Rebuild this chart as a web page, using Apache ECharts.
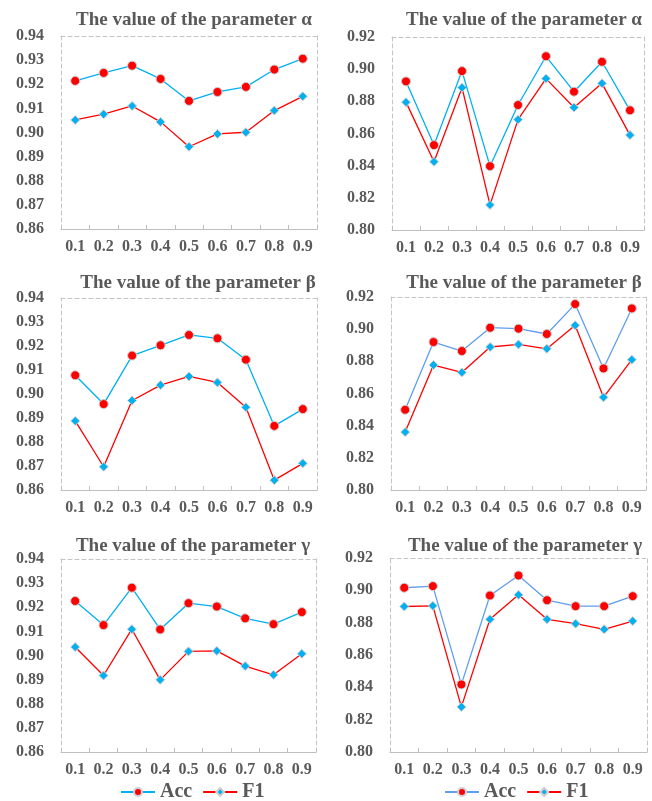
<!DOCTYPE html>
<html>
<head>
<meta charset="utf-8">
<script src="https://cdn.jsdelivr.net/npm/echarts@6/dist/echarts.min.js"></script>
<style>html,body{margin:0;padding:0;background:#fff}#c{width:652px;height:801px}</style>
</head>
<body>
<div id="c"></div>
<script>
// ---- data ----
const categories = ['0.1','0.2','0.3','0.4','0.5','0.6','0.7','0.8','0.9'];
const titles = ['The value of the parameter α','The value of the parameter α',
                'The value of the parameter β','The value of the parameter β',
                'The value of the parameter γ','The value of the parameter γ'];
const seriesNames = ['Acc','F1'];
const accAlphaL = [0.9214,0.9247,0.9277,0.9222,0.9131,0.9168,0.9189,0.9261,0.9306];
const f1AlphaL  = [0.9052,0.9076,0.9110,0.9044,0.8941,0.8994,0.9001,0.9091,0.9150];
const accAlphaR = [0.8924,0.8528,0.8988,0.8397,0.8777,0.9080,0.8860,0.9046,0.8744];
const f1AlphaR  = [0.8795,0.8424,0.8885,0.8156,0.8686,0.8941,0.8762,0.8912,0.8590];
const accBetaL  = [0.9078,0.8958,0.9160,0.9203,0.9246,0.9232,0.9143,0.8867,0.8937];
const f1BetaL   = [0.8888,0.8697,0.8973,0.9037,0.9073,0.9048,0.8945,0.8641,0.8711];
const accBetaR  = [0.8499,0.8920,0.8864,0.9009,0.9003,0.8970,0.9156,0.8756,0.9129];
const f1BetaR   = [0.8360,0.8777,0.8731,0.8889,0.8905,0.8878,0.9024,0.8576,0.8810];
const accGammaL = [0.9226,0.9126,0.9281,0.9108,0.9217,0.9203,0.9154,0.9130,0.9180];
const f1GammaL  = [0.9035,0.8917,0.9109,0.8899,0.9017,0.9019,0.8956,0.8920,0.9007];
const accGammaR = [0.9016,0.9026,0.8418,0.8968,0.9092,0.8939,0.8902,0.8902,0.8964];
const f1GammaR  = [0.8900,0.8904,0.8279,0.8821,0.8972,0.8821,0.8794,0.8759,0.8810];
// y-axis ranges [min, max, interval]
const yRangeLeft  = [0.86, 0.94, 0.01];
const yRangeRight = [0.80, 0.92, 0.02];

// ---- layout / style ----
const panels = [
  {acc: accAlphaL, f1: f1AlphaL, range: yRangeLeft,  grid:{left:61, top:36, width:256, height:193}, tx:189, ty:6,   accLine:'#00B0F0'},
  {acc: accAlphaR, f1: f1AlphaR, range: yRangeRight, grid:{left:392,top:37, width:252, height:193}, tx:519, ty:6,   accLine:'#00B0F0'},
  {acc: accBetaL,  f1: f1BetaL,  range: yRangeLeft,  grid:{left:61, top:298,width:256, height:192}, tx:193, ty:269, accLine:'#00B0F0'},
  {acc: accBetaR,  f1: f1BetaR,  range: yRangeRight, grid:{left:391,top:297,width:255, height:193}, tx:519, ty:269, accLine:'#5F9EEE'},
  {acc: accGammaL, f1: f1GammaL, range: yRangeLeft,  grid:{left:61, top:559,width:255, height:193}, tx:188, ty:532, accLine:'#00B0F0'},
  {acc: accGammaR, f1: f1GammaR, range: yRangeRight, grid:{left:390,top:558,width:257, height:194}, tx:520, ty:532, accLine:'#5F9EEE'}
];
const FONT = '"Liberation Serif","Times New Roman",serif';
const TXT = '#595959';
const BORDER = '#c4c4c4';
const RED = '#FF0000', BLUE = '#00B0F0';

const option = {
  animation:false,
  backgroundColor:'#fff',
  title:[], grid:[], xAxis:[], yAxis:[], series:[], legend:[]
};

panels.forEach((p,i)=>{
  option.title.push({text:titles[i], left:p.tx, top:p.ty, textAlign:'center',
    textStyle:{fontFamily:FONT, fontWeight:'bold', fontSize:19, color:TXT}});
  option.grid.push(Object.assign({containLabel:false}, p.grid));
  option.xAxis.push({type:'category', gridIndex:i, data:categories, boundaryGap:true, position:'bottom',
    axisLine:{show:true, onZero:false, lineStyle:{color:'#bfbfbf', width:1}},
    axisTick:{show:true, inside:true, length:4, alignWithLabel:false, lineStyle:{color:'#bfbfbf'}},
    axisLabel:{fontFamily:FONT, fontWeight:'bold', fontSize:16, color:TXT, margin:10, interval:0},
    splitLine:{show:false}});
  option.xAxis.push({type:'category', gridIndex:i, data:categories, position:'top',
    axisLine:{show:true, onZero:false, lineStyle:{color:BORDER, type:[4,3], width:1}},
    axisTick:{show:false}, axisLabel:{show:false}, splitLine:{show:false}});
  const [mn,mx,iv] = p.range;
  option.yAxis.push({type:'value', gridIndex:i, min:mn, max:mx, interval:iv, position:'left',
    axisLine:{show:true, onZero:false, lineStyle:{color:BORDER, type:[4,3], width:1}},
    axisTick:{show:false},
    axisLabel:{fontFamily:FONT, fontWeight:'bold', fontSize:16, color:TXT, margin:17,
      formatter:v=>v.toFixed(2)},
    splitLine:{show:false}});
  option.yAxis.push({type:'value', gridIndex:i, min:mn, max:mx, interval:iv, position:'right',
    axisLine:{show:true, onZero:false, lineStyle:{color:BORDER, type:[4,3], width:1}},
    axisTick:{show:false}, axisLabel:{show:false}, splitLine:{show:false}});
  option.series.push({name:seriesNames[0], type:'line', xAxisIndex:2*i, yAxisIndex:2*i, data:p.acc,
    symbol:'circle', symbolSize:9,
    lineStyle:{color:p.accLine, width:1.3},
    itemStyle:{color:RED, borderColor:'#d0d0d0', borderWidth:1}, z:3});
  option.series.push({name:seriesNames[1], type:'line', xAxisIndex:2*i, yAxisIndex:2*i, data:p.f1,
    symbol:'diamond', symbolSize:9,
    lineStyle:{color:RED, width:1.3},
    itemStyle:{color:BLUE, borderColor:'#d0d0d0', borderWidth:1}, z:2});
});

const legendText = {fontFamily:FONT, fontWeight:'bold', fontSize:20, color:TXT, lineHeight:20};
option.legend.push({left:120, top:782, padding:0, itemWidth:34, itemHeight:10, itemGap:10,
  textStyle:legendText, data:seriesNames.map(n=>({name:n}))});
option.legend.push({left:444, top:782, padding:0, itemWidth:34, itemHeight:10, itemGap:10,
  textStyle:legendText,
  data:[{name:seriesNames[0], lineStyle:{color:'#5F9EEE'}}, {name:seriesNames[1]}]});

const chart = echarts.init(document.getElementById('c'), null, {renderer:'canvas'});
chart.setOption(option);
</script>
</body>
</html>
